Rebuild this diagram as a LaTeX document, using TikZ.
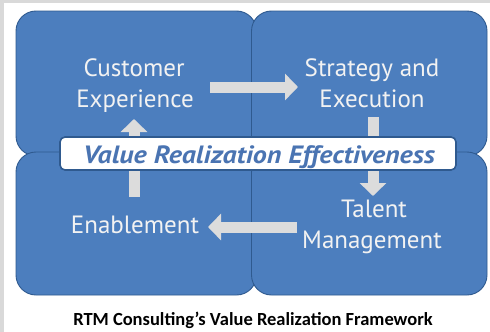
\documentclass[tikz,border=0pt]{standalone}
\usepackage{fontspec}
\setmainfont{PT Sans}
\newfontfamily\capfont{Carlito}
\usetikzlibrary{arrows.meta}
\definecolor{boxblue}{HTML}{4C7EBE}
\definecolor{boxedge}{HTML}{2F5A8F}
\definecolor{arrowgrey}{HTML}{DCDCDC}
\definecolor{bannertext}{HTML}{4A74B2}
\definecolor{framegrey}{HTML}{D9D9D9}
\tikzset{
  quad/.style={fill=boxblue, draw=boxedge, line width=0.9pt, rounded corners=20pt},
  lbl/.style={text=white!95!black, font=\fontsize{25}{25}\selectfont, anchor=base},
  blockarrow/.style={draw=arrowgrey, line width=11pt, -{Triangle[width=26pt,length=13pt]}},
}
\begin{document}
\begin{tikzpicture}[x=1pt,y=-1pt]
\useasboundingbox (0,0) rectangle (490,332);
\fill[framegrey] (0,0) rectangle (490,332);
\fill[white] (4,3) rectangle (490,332);
% quadrants
\draw[quad] (16,11) rectangle (256.5,156);
\draw[quad] (251.5,11) rectangle (487,156);
\draw[quad] (16,152) rectangle (256.5,295);
\draw[quad] (251.5,152) rectangle (487,295);
% labels
\node[lbl] (c1) at (134,76) {Customer};
\node[lbl] (c2) at (135,107) {Experience};
\node[lbl] (s1) at (372,76) {Strategy and};
\node[lbl] (s2) at (372,107) {Execution};
\node[lbl] (t1) at (374,217) {Talent};
\node[lbl] (t2) at (372,248) {Management};
\node[lbl] (e1) at (135,233) {Enablement};
% arrow endpoints
\coordinate (ra1) at (210,87);  \coordinate (ra2) at (298,87);
\coordinate (da1) at (373,117); \coordinate (da2) at (373,196);
\coordinate (la1) at (297,227); \coordinate (la2) at (208,227);
\coordinate (ua1) at (134,197); \coordinate (ua2) at (134,119);
\draw[blockarrow] (ra1) -- (ra2);
\draw[blockarrow] (da1) -- (da2);
\draw[blockarrow] (la1) -- (la2);
\draw[blockarrow] (ua1) -- (ua2);
% banner
\node[draw=boxedge, fill=white, line width=1.6pt, rounded corners=5pt,
      minimum width=396pt, minimum height=33pt, inner sep=0pt] (banner) at (258,153.5) {};
\node[anchor=base, text=bannertext, font=\fontsize{25}{25}\selectfont\bfseries\itshape] (vre) at (259,163) {\scalebox{1.12}[1]{Value Realization Effectiveness}};
% caption
\node[anchor=base, font=\capfont\bfseries\fontsize{18.5}{18.5}\selectfont] (cap) at (253,325) {RTM Consulting’s Value Realization Framework};
\end{tikzpicture}
\end{document}
